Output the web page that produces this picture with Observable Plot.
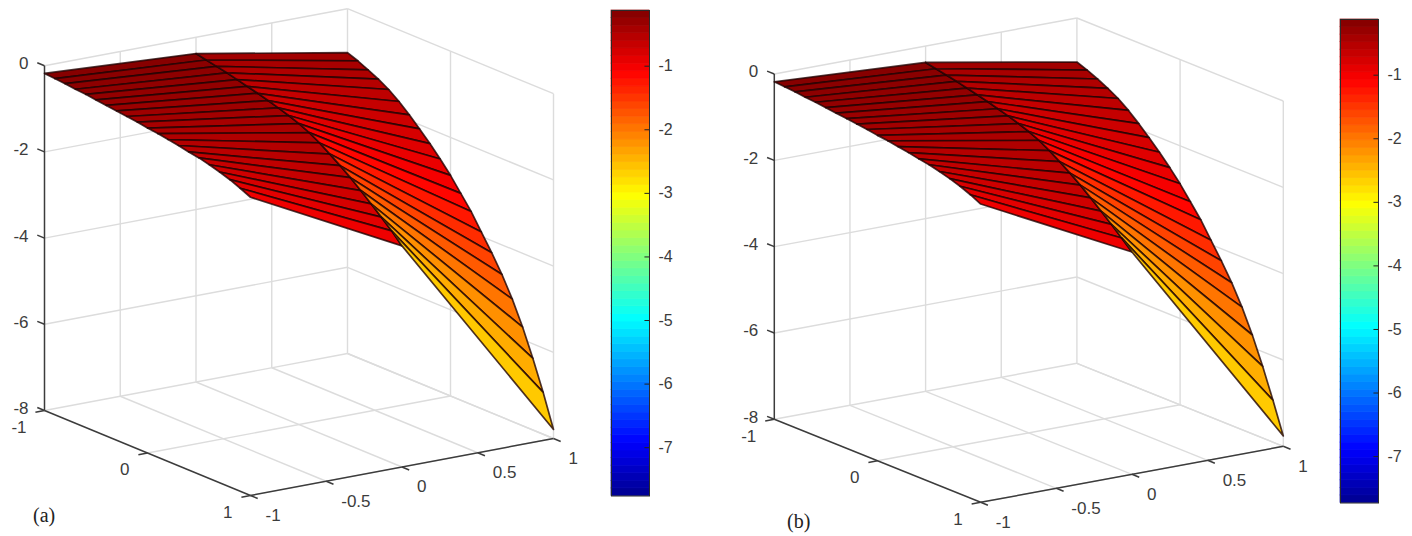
<!DOCTYPE html>
<html><head><meta charset="utf-8">
<script src="https://cdn.jsdelivr.net/npm/d3@7"></script>
<script src="https://cdn.jsdelivr.net/npm/@observablehq/plot@0.6"></script>
<style>
html,body{margin:0;padding:0;background:#fff;width:1412px;height:536px;overflow:hidden}
#root{position:relative;width:1412px;height:536px}
#root>svg{position:absolute;overflow:visible;background:transparent}
.tag{position:absolute;font:20px "Liberation Serif",serif;color:#222}
</style></head><body><div id="root"></div>
<script>
// axis ticks
const uTicks=[-1,-0.5,0,0.5,1];
const vTicks=[-1,0,1];
const zTicks=[0,-2,-4,-6,-8];
const barTicks=[-1,-2,-3,-4,-5,-6,-7];
// surface samples: u has three columns, v has 21 rows from -1 to 1
const uCols=[-1,0,1];
const vRows=[-1,-0.9,-0.8,-0.7,-0.6,-0.5,-0.4,-0.3,-0.2,-0.1,0,0.1,0.2,0.3,0.4,0.5,0.6,0.7,0.8,0.9,1];
const zLeftA=[-0.18,-0.2,-0.22,-0.25,-0.27,-0.3,-0.33,-0.36,-0.39,-0.42,-0.46,-0.49,-0.53,-0.57,-0.62,-0.66,-0.72,-0.79,-0.87,-0.97,-1.08];
const zMidA=[-0.38,-0.43,-0.48,-0.53,-0.59,-0.65,-0.71,-0.78,-0.85,-0.93,-1.02,-1.13,-1.27,-1.43,-1.6,-1.78,-1.98,-2.19,-2.4,-2.62,-2.87];
const zRightA=[-1.02,-1.11,-1.22,-1.34,-1.48,-1.66,-1.87,-2.1,-2.34,-2.6,-2.88,-3.2,-3.52,-3.9,-4.28,-4.69,-5.16,-5.71,-6.34,-7.03,-7.79];
const zLeftB=[-0.18,-0.2,-0.22,-0.25,-0.27,-0.3,-0.33,-0.36,-0.39,-0.42,-0.46,-0.49,-0.53,-0.57,-0.62,-0.66,-0.72,-0.79,-0.87,-0.97,-1.09];
const zMidB=[-0.38,-0.43,-0.48,-0.53,-0.59,-0.65,-0.71,-0.78,-0.85,-0.93,-1.02,-1.13,-1.27,-1.43,-1.6,-1.78,-1.98,-2.19,-2.4,-2.62,-2.85];
const zRightB=[-1.02,-1.11,-1.22,-1.34,-1.48,-1.66,-1.87,-2.1,-2.34,-2.6,-2.88,-3.2,-3.52,-3.9,-4.28,-4.69,-5.16,-5.71,-6.34,-7.03,-7.76];
// colour range of each panel's colour bar
const rangeA=[-7.76,-0.124];
const rangeB=[-7.73,-0.124];
// jet colour map stops
const jetPos=[0,0.111,0.365,0.619,0.873,1];
const jetCol=["#00008f","#0000ff","#00ffff","#ffff00","#ff0000","#800000"];

const ink="#3c3c3c", grid="#dcdcdc", font='"Liberation Sans",Arial,sans-serif';
const root=document.getElementById("root");
function place(svg,left,top){svg.style.left=left+"px";svg.style.top=top+"px";root.appendChild(svg);}
function jetScale(range){return {type:"linear",domain:jetPos.map(p=>range[0]+p*(range[1]-range[0])),range:jetCol,clamp:true};}

function surfacePanel(view,zL,zM,zR,range,left){
  const P=(u,v,z)=>[view.cx+u*view.ux+v*view.vx, view.cy+u*view.uy+v*view.vy-(z+8)*view.zy];
  const seg=(a,b)=>[P(...a),P(...b)];
  const walls=[];
  for(const z of zTicks){walls.push(seg([-1,-1,z],[1,-1,z]));walls.push(seg([1,-1,z],[1,1,z]));}
  for(const u of uTicks.slice(1)){walls.push(seg([u,-1,-8],[u,-1,0]));walls.push(seg([u,-1,-8],[u,1,-8]));}
  for(const v of vTicks.slice(1)){walls.push(seg([1,v,-8],[1,v,0]));walls.push(seg([-1,v,-8],[1,v,-8]));}
  const axes=[seg([-1,-1,-8],[-1,-1,0]),seg([-1,-1,-8],[-1,1,-8]),seg([-1,1,-8],[1,1,-8])];
  for(const z of zTicks)axes.push(seg([-1,-1,z],[-1,-1.07,z]));
  for(const v of vTicks)axes.push(seg([-1,v,-8],[-1.06,v,-8]));
  for(const u of uTicks)axes.push(seg([u,1,-8],[u,1.07,-8]));
  const cols=[zL,zM,zR], faces=[];
  for(let c=0;c<2;c++)for(let r=0;r<vRows.length-1;r++){
    const id=c+"-"+r, level=cols[c][r];
    const corners=[[c,r],[c+1,r],[c+1,r+1],[c,r+1],[c,r]];
    for(const [i,j] of corners){const p=P(uCols[i],vRows[j],cols[i][j]);faces.push({id,level,x:p[0],y:p[1]});}
  }
  const lab=(rows,anchor,dx,dy)=>Plot.text(rows,{x:d=>d.p[0],y:d=>d.p[1],text:d=>d.t,textAnchor:anchor,dx,dy,fontSize:17,fill:ink,fontFamily:font});
  const W=620,H=536;
  const svg=Plot.plot({width:W,height:H,margin:0,style:{background:"transparent"},
    x:{domain:[0,W],range:[0,W],axis:null},y:{domain:[0,H],range:[0,H],axis:null},
    color:jetScale(range),
    marks:[
      Plot.link(walls,{x1:d=>d[0][0],y1:d=>d[0][1],x2:d=>d[1][0],y2:d=>d[1][1],stroke:grid,strokeWidth:1.4}),
      Plot.link(axes,{x1:d=>d[0][0],y1:d=>d[0][1],x2:d=>d[1][0],y2:d=>d[1][1],stroke:ink,strokeWidth:1.5}),
      Plot.line(faces,{x:"x",y:"y",z:"id",fill:"level",stroke:"#200404",strokeWidth:1.7,strokeOpacity:0.8,strokeLinejoin:"round",curve:"linear"}),
      lab(zTicks.map(z=>({t:String(z),p:P(-1,-1,z)})),"end",-16,-2),
      lab(vTicks.map(v=>({t:String(v),p:P(-1,v,-8)})),"end",-18,17),
      lab(uTicks.map(u=>({t:String(u),p:P(u,1,-8)})),"start",15,20)
    ]});
  place(svg,left,0);
}
function colorBar(box,range,left){
  const n=64, step=(range[1]-range[0])/n, bands=d3.range(n).map(i=>({lo:range[0]+i*step,hi:range[0]+(i+1)*step}));
  const W=90,h=box.bottom-box.top;
  const mid=d=>(d.lo+d.hi)/2;
  const svg=Plot.plot({width:W,height:h,marginLeft:0,marginRight:W-box.w,marginTop:0,marginBottom:0,style:{background:"transparent",overflow:"visible"},
    x:{domain:[0,1],axis:null},y:{domain:range,axis:null},
    color:jetScale(range),
    marks:[
      Plot.rect(bands,{x1:0,x2:1,y1:"lo",y2:"hi",fill:mid,stroke:mid,strokeWidth:0.7}),
      Plot.ruleY(barTicks,{x1:0.88,x2:1,stroke:"#222",strokeWidth:1}),
      Plot.frame({stroke:"#2a2a2a",strokeWidth:1}),
      Plot.text(barTicks,{x:1,y:d=>d,text:d=>String(d),textAnchor:"start",dx:9,fontSize:16,fill:ink,fontFamily:font})
    ]});
  place(svg,left,box.top);
}
const viewA={cx:298.5,cy:424,ux:151.5,uy:-28.5,vx:103,vy:42.5,zy:43.1};
const viewB={cx:298.3,cy:432.3,ux:151.3,uy:-28,vx:103.2,vy:41.5,zy:43.16};
surfacePanel(viewA,zLeftA,zMidA,zRightA,rangeA,0);
surfacePanel(viewB,zLeftB,zMidB,zRightB,rangeB,730);
colorBar({top:9.5,bottom:495,w:38},rangeA,610.5);
colorBar({top:19,bottom:502.5,w:38},rangeB,1339.5);
for(const [t,l,tp] of [["(a)",33,504],["(b)",787,510]]){
  const d=document.createElement("div");d.className="tag";d.textContent=t;d.style.left=l+"px";d.style.top=tp+"px";root.appendChild(d);
}
</script></body></html>
